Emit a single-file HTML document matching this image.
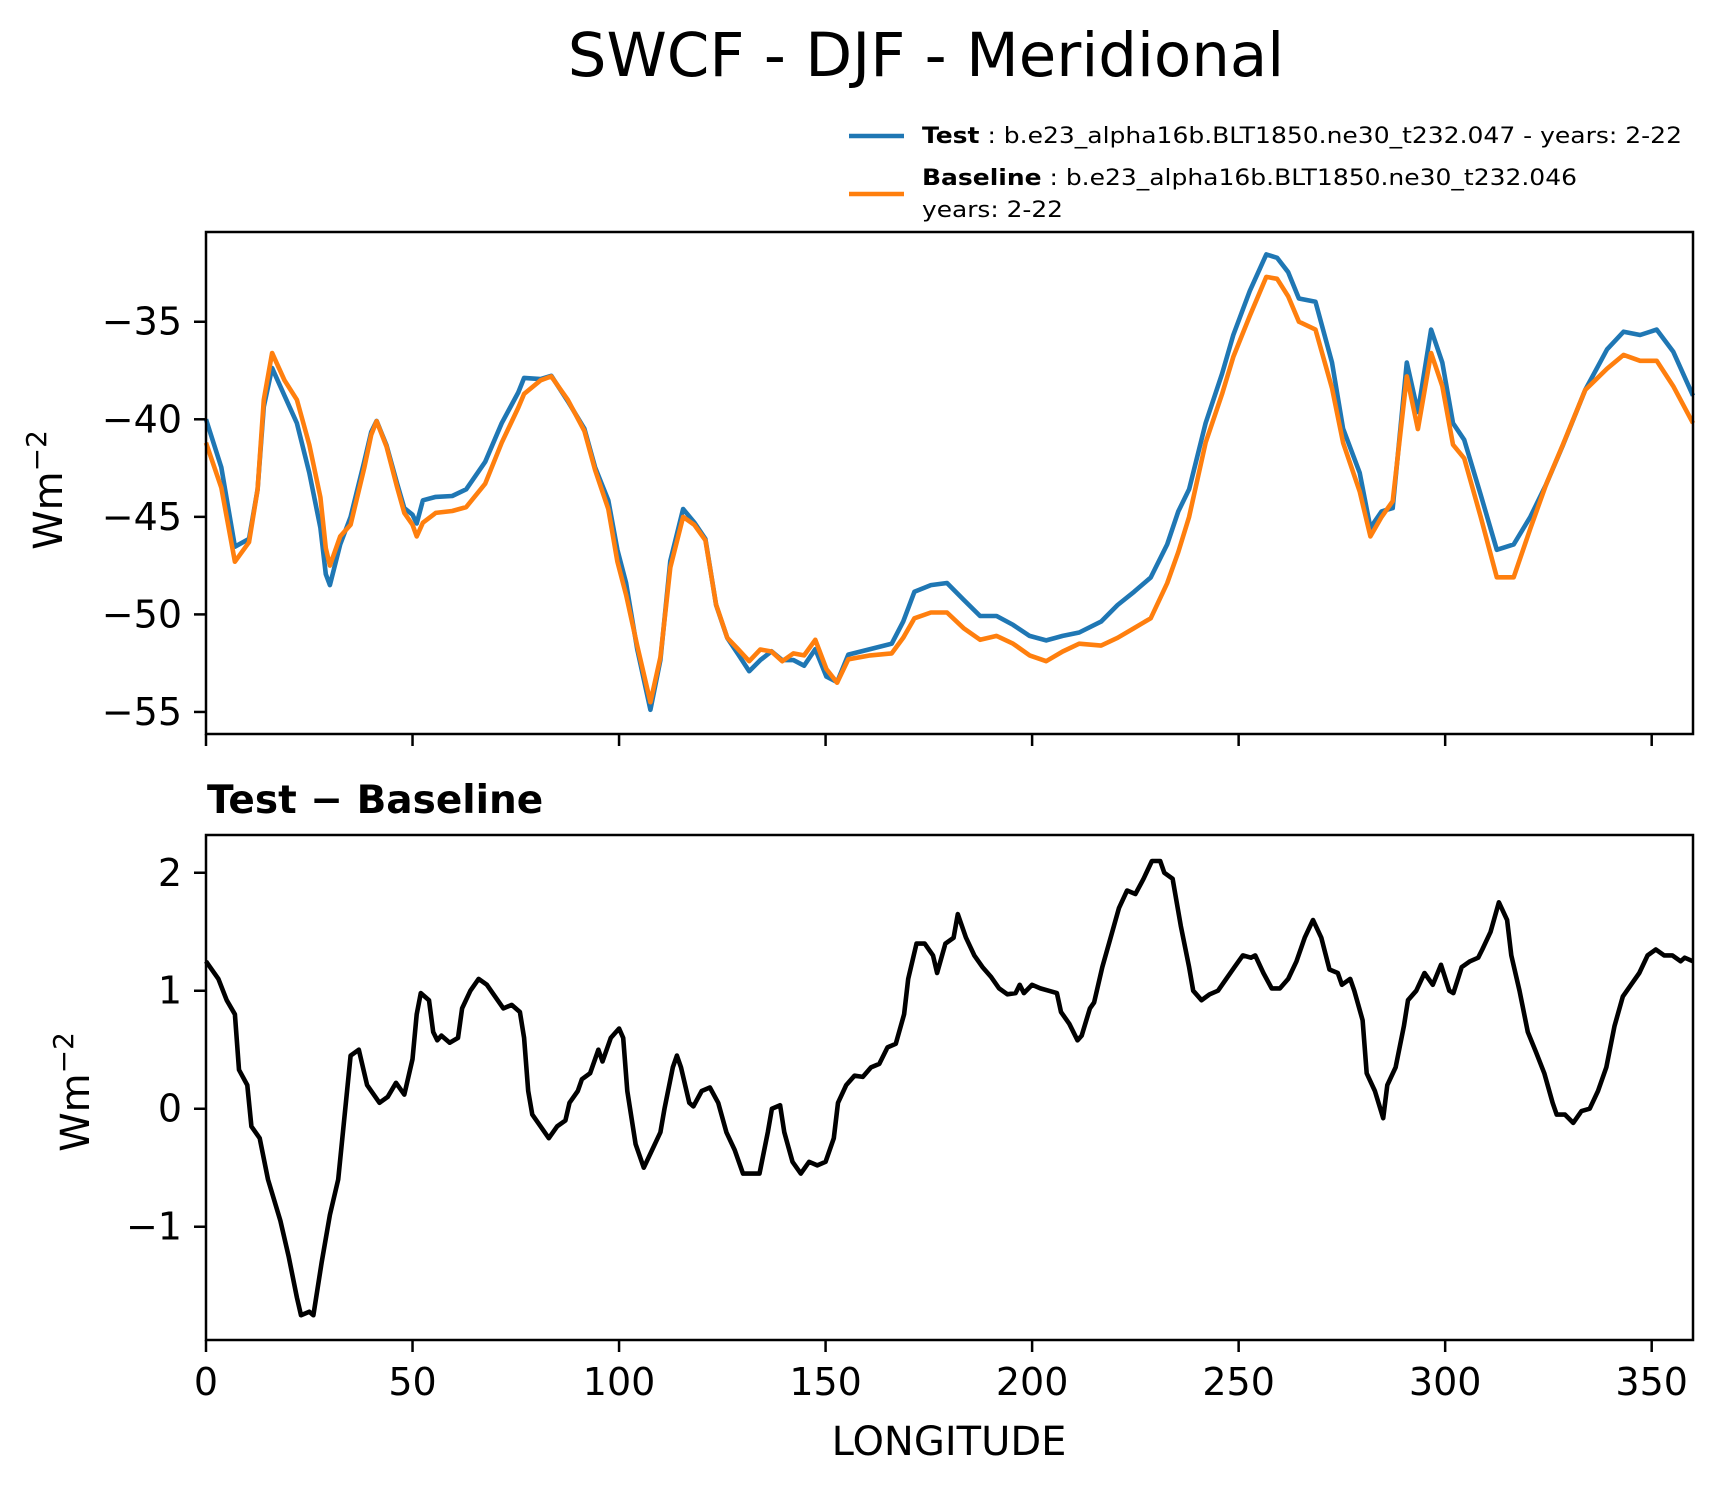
<!DOCTYPE html>
<html><head><meta charset="utf-8"><style>
body{margin:0;background:#fff;}
svg{display:block;font-family:"DejaVu Sans","Liberation Sans",sans-serif;}
</style></head><body>
<svg id="chart" width="1726" height="1496" viewBox="0 0 1726 1496" xmlns="http://www.w3.org/2000/svg">
<text x="926" y="76" font-size="61" text-anchor="middle">SWCF - DJF - Meridional</text>
<g>
<line x1="849" y1="136" x2="904" y2="136" stroke="#1f77b4" stroke-width="4.5"/>
<text x="922" y="143" font-size="22" textLength="760" lengthAdjust="spacingAndGlyphs"><tspan font-weight="bold">Test</tspan> : b.e23_alpha16b.BLT1850.ne30_t232.047 - years: 2-22</text>
<line x1="849" y1="194" x2="904" y2="194" stroke="#ff7f0e" stroke-width="4.5"/>
<text x="922" y="185" font-size="22" textLength="655" lengthAdjust="spacingAndGlyphs"><tspan font-weight="bold">Baseline</tspan> : b.e23_alpha16b.BLT1850.ne30_t232.046</text>
<text x="922" y="217" font-size="22" textLength="141" lengthAdjust="spacingAndGlyphs">years: 2-22</text>
</g>
<g id="top"></g>
<text x="207" y="813" font-size="39" font-weight="bold">Test − Baseline</text>
<g id="bot"></g>
<text x="949" y="1455" font-size="40" text-anchor="middle">LONGITUDE</text>
<text transform="translate(62,490) rotate(-90)" font-size="40" text-anchor="middle">Wm<tspan dy="-16" font-size="28">−2</tspan></text>
<text transform="translate(89,1092) rotate(-90)" font-size="40" text-anchor="middle">Wm<tspan dy="-16" font-size="28">−2</tspan></text>
</svg>
<script>
const lonTop=[0,3.7,7,10.4,12.5,14,16,19,22,25,27.7,29,30,32.5,35,38.3,40,41.3,43.7,46.3,48,50,51,52.5,55.6,59.6,63,67.6,71.6,75.6,77,81,83.6,87.6,91.6,94.2,97.4,99.6,101.7,104.4,107.6,110,112.4,115.5,118.2,120.9,123.5,126.2,128.9,131.5,134.2,136.9,139.5,142.2,144.8,147.5,150.2,152.8,155.5,160.8,166,168.8,171.5,175.5,179.4,183.4,187.4,191.4,195.4,199.4,203.4,207.4,211.4,216.7,220.7,224.7,228.7,232.7,235.4,238,242,246,248.7,252.7,256.7,259.3,262,264.6,268.6,272.6,275.3,279.3,281.9,284.6,287.3,290.7,293.4,296.6,299.3,301.9,304.6,308.6,312.5,316.6,320.6,324.5,328.5,333.9,339.2,343.2,347.2,351.2,355.2,360];
const testVals=[-40,-42.46,-46.53,-46.13,-43.59,-39.35,-37.37,-38.79,-40.2,-42.74,-45.56,-47.94,-48.5,-46.41,-45,-42.18,-40.65,-40.08,-41.33,-43.31,-44.55,-44.89,-45.34,-44.15,-43.98,-43.93,-43.59,-42.18,-40.2,-38.62,-37.88,-37.94,-37.77,-39.07,-40.48,-42.46,-44.15,-46.69,-48.39,-51.78,-54.89,-52.34,-47.26,-44.6,-45.28,-46.13,-49.52,-51.21,-52.06,-52.91,-52.34,-51.89,-52.34,-52.34,-52.63,-51.78,-53.19,-53.47,-52.06,-51.78,-51.5,-50.37,-48.84,-48.5,-48.39,-49.24,-50.08,-50.08,-50.54,-51.1,-51.33,-51.1,-50.93,-50.37,-49.52,-48.84,-48.11,-46.41,-44.72,-43.59,-40.2,-37.66,-35.68,-33.42,-31.55,-31.72,-32.46,-33.81,-33.98,-37.09,-40.48,-42.74,-45.56,-44.72,-44.55,-37.09,-39.63,-35.4,-37.09,-40.2,-41.05,-43.87,-46.69,-46.41,-45,-43.31,-41.33,-38.5,-36.41,-35.51,-35.68,-35.4,-36.53,-38.79];
const baseVals=[-41.2,-43.5,-47.3,-46.3,-43.6,-39.0,-36.6,-38.0,-39.0,-41.3,-44.0,-46.6,-47.5,-46.0,-45.4,-42.5,-40.8,-40.1,-41.4,-43.5,-44.8,-45.4,-46.0,-45.3,-44.8,-44.7,-44.5,-43.3,-41.2,-39.4,-38.7,-38.0,-37.8,-39.0,-40.6,-42.6,-44.6,-47.3,-49.0,-51.6,-54.5,-52.2,-47.6,-45.0,-45.4,-46.2,-49.5,-51.2,-51.8,-52.4,-51.8,-51.9,-52.4,-52.0,-52.1,-51.3,-52.8,-53.5,-52.3,-52.1,-52.0,-51.2,-50.2,-49.9,-49.9,-50.7,-51.3,-51.1,-51.5,-52.1,-52.4,-51.9,-51.5,-51.6,-51.2,-50.7,-50.2,-48.4,-46.8,-45.0,-41.2,-38.7,-36.8,-34.7,-32.7,-32.8,-33.7,-35.0,-35.4,-38.4,-41.2,-43.7,-46.0,-45.0,-44.2,-37.8,-40.5,-36.6,-38.3,-41.3,-42.0,-45.0,-48.1,-48.1,-45.6,-43.3,-41.3,-38.5,-37.4,-36.7,-37.0,-37.0,-38.3,-40.2];
const lonDiff=[0,3,5,7,8,10,11,13,15,18,20,22,23,25,26,28,30,32,35,37,39,42,44,46,48,50,51,52,54,55,56,57,59,61,62,64,66,68,70,72,74,76,77,78,79,81,83,85,87,88,90,91,93,95,96,98,100,101,102,104,106,108,110,111,113,114,115,117,118,120,122,124,126,128,130,132,134,136,137,139,140,142,144,146,148,150,152,153,155,157,159,161,163,165,167,169,170,172,174,176,177,179,181,182,184,186,188,190,192,194,196,197,198,200,202,204,206,207,209,211,212,214,215,217,219,221,223,225,227,229,231,232,234,236,238,239,241,243,245,247,249,251,253,254,256,258,260,262,264,266,268,270,272,274,275,277,278,280,281,283,285,286,288,290,291,293,295,297,299,301,302,304,306,308,309,311,313,315,316,318,320,322,324,326,327,329,331,333,335,337,339,341,343,345,347,349,351,353,355,357,358,360];
const diffVals=[1.25,1.1,0.92,0.8,0.33,0.2,-0.15,-0.25,-0.6,-0.95,-1.25,-1.6,-1.75,-1.72,-1.75,-1.3,-0.9,-0.6,0.45,0.5,0.2,0.05,0.1,0.22,0.12,0.42,0.8,0.98,0.92,0.65,0.58,0.62,0.56,0.6,0.85,1.0,1.1,1.05,0.95,0.85,0.88,0.82,0.6,0.15,-0.05,-0.15,-0.25,-0.15,-0.1,0.05,0.15,0.25,0.3,0.5,0.4,0.6,0.68,0.6,0.15,-0.3,-0.5,-0.35,-0.2,0,0.35,0.45,0.35,0.05,0.02,0.15,0.18,0.05,-0.2,-0.35,-0.55,-0.55,-0.55,-0.2,0,0.03,-0.2,-0.45,-0.55,-0.45,-0.48,-0.45,-0.25,0.05,0.2,0.28,0.27,0.35,0.38,0.52,0.55,0.8,1.1,1.4,1.4,1.3,1.15,1.4,1.45,1.65,1.45,1.3,1.2,1.12,1.02,0.97,0.98,1.05,0.98,1.05,1.02,1.0,0.98,0.82,0.72,0.58,0.62,0.85,0.9,1.2,1.45,1.7,1.85,1.82,1.95,2.1,2.1,2.0,1.95,1.55,1.2,1.0,0.92,0.97,1.0,1.1,1.2,1.3,1.28,1.3,1.15,1.02,1.02,1.1,1.25,1.45,1.6,1.45,1.18,1.15,1.05,1.1,1.0,0.75,0.3,0.15,-0.08,0.2,0.35,0.7,0.92,1.0,1.15,1.05,1.22,1.0,0.98,1.2,1.25,1.28,1.35,1.5,1.75,1.6,1.3,1.0,0.65,0.48,0.3,0.05,-0.05,-0.05,-0.12,-0.02,0,0.15,0.35,0.7,0.95,1.05,1.15,1.3,1.35,1.3,1.3,1.25,1.28,1.25];
const xTicks=[0,50,100,150,200,250,300,350];
const topTicks=[-35,-40,-45,-50,-55];
const topTickLabels=["−35","−40","−45","−50","−55"];
const botTicks=[2,1,0,-1];
const botTickLabels=["2","1","0","−1"];

const NS="http://www.w3.org/2000/svg";
const X0=206,X1=1693;
const xs=v=>X0+(v-0)/(360-0)*(X1-X0);
const topY0=232,topY1=734,topMin=-56.13,topMax=-30.4;
const ys1=v=>topY1-(v-topMin)/(topMax-topMin)*(topY1-topY0);
const botY0=835,botY1=1340,botMin=-1.96,botMax=2.32;
const ys2=v=>botY1-(v-botMin)/(botMax-botMin)*(botY1-botY0);
function mk(tag,attrs,parent){const e=document.createElementNS(NS,tag);for(const k in attrs)e.setAttribute(k,attrs[k]);parent.appendChild(e);return e;}
function drawLine(g,lons,vals,ys,color,name){
  const d=lons.map((l,i)=>(i?'L':'M')+xs(l).toFixed(1)+','+ys(vals[i]).toFixed(1)).join('');
  const p=mk('path',{d:d,fill:'none',stroke:color,'stroke-width':4.6,'stroke-linejoin':'round'},g);
  
  
}
function frame(g,y0,y1,ticks,labels,ys,showX,nm){
  ticks.forEach((t,i)=>{
    const y=ys(t);
    const tk=mk('line',{x1:X0-12,x2:X0,y1:y,y2:y,stroke:'#000','stroke-width':2.5},g);
    
    
    const tx=mk('text',{x:X0-24,y:y+13,'font-size':38,'text-anchor':'end'},g);
    tx.textContent=labels[i];
    
    
  });
  xTicks.forEach(t=>{
    const x=xs(t);
    const tk=mk('line',{x1:x,x2:x,y1:y1,y2:y1+12,stroke:'#000','stroke-width':2.5},g);
    
    
    if(showX){
      const tx=mk('text',{x:x,y:y1+55,'font-size':38,'text-anchor':'middle'},g);
      tx.textContent=String(t);
      
      
    }
  });
}
function box(g,y0,y1,nm){
  const r=mk('rect',{x:X0,y:y0,width:X1-X0,height:y1-y0,fill:'none',stroke:'#000','stroke-width':2.5},g);
  
  
}
const gt=document.getElementById('top'), gb=document.getElementById('bot');
drawLine(gt,lonTop,testVals,ys1,'#1f77b4','test-line');
drawLine(gt,lonTop,baseVals,ys1,'#ff7f0e','baseline-line');
box(gt,topY0,topY1,'top');
frame(gt,topY0,topY1,topTicks,topTickLabels,ys1,false,'top');
drawLine(gb,lonDiff,diffVals,ys2,'#000','diff-line');
box(gb,botY0,botY1,'diff');
frame(gb,botY0,botY1,botTicks,botTickLabels,ys2,true,'diff');
</script>
</body></html>
